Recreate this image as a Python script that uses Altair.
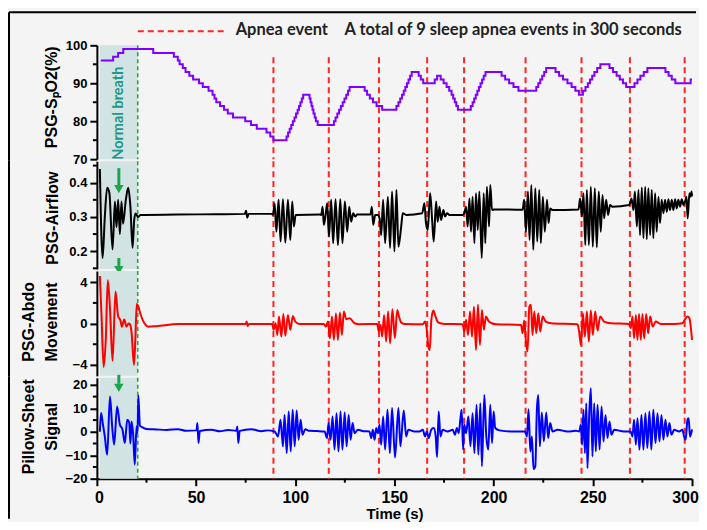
import altair as alt
import pandas as pd

# ---------------- data ----------------
TIME_TICKS = [0, 50, 100, 150, 200, 250, 300]
TIME_MINOR = [25, 75, 125, 175, 225, 275]
NORMAL_BREATH = [1.5, 20.6]          # shaded "Normal breath" interval (s)
APNEA_T = [89.0, 116.9, 142.2, 166.5, 185.1, 216.1, 244.3, 268.7, 296.3]

SPO2_TICKS, SPO2_MINOR = [70, 80, 90, 100], [75, 85, 95]
AIR_TICKS, AIR_MINOR = [0.2, 0.3, 0.4], [0.15, 0.25, 0.35, 0.45]
ABDO_TICKS, ABDO_MINOR = [-4, 0, 4], [-2, 2]
PIL_TICKS, PIL_MINOR = [-20, -10, 0, 10, 20], [-15, -5, 5, 15]

SPO2 = [
    (2.0, 96), (8.2, 97), (10.7, 98), (13.3, 99), (28.4, 98), (38.8, 97), (40.8, 96), (41.7, 95),
    (43.3, 94), (44.7, 93), (46.6, 92), (48.5, 91), (51.5, 90), (53.4, 89), (56.3, 88), (58.3, 87),
    (59.3, 86), (60.2, 85), (62.1, 84), (64.1, 83), (66.0, 82), (68.6, 81), (74.8, 80), (77.7, 79),
    (80.6, 78), (85.5, 77), (87.4, 76), (89.0, 75), (95.6, 76), (96.4, 77), (97.2, 78), (98.0, 79),
    (98.8, 80), (99.6, 81), (100.4, 82), (101.2, 83), (101.9, 84), (102.6, 85), (103.3, 86), (104.0, 87),
    (107.2, 86), (107.7, 85), (108.2, 84), (108.7, 83), (109.2, 82), (109.8, 81), (110.4, 80), (111.3, 79),
    (119.5, 80), (120.3, 81), (121.2, 82), (122.1, 83), (123.0, 84), (123.9, 85), (124.8, 86), (125.7, 87),
    (126.6, 88), (127.4, 89), (135.0, 88), (136.2, 87), (137.6, 86), (139.2, 85), (141.0, 84), (143.8, 83),
    (151.0, 84), (152.0, 85), (152.9, 86), (153.8, 87), (154.7, 88), (155.5, 89), (156.3, 90), (157.1, 91),
    (157.9, 92), (158.7, 93), (162.2, 92), (163.3, 91), (164.5, 90), (170.3, 91), (171.5, 92), (173.3, 91),
    (174.8, 90), (176.3, 89), (177.6, 88), (178.8, 87), (179.6, 86), (180.4, 85), (181.2, 84), (182.0, 83),
    (188.5, 84), (189.4, 85), (190.2, 86), (191.0, 87), (191.8, 88), (192.6, 89), (193.4, 90), (194.2, 91),
    (195.0, 92), (195.9, 93), (204.0, 92), (205.8, 91), (207.8, 90), (210.0, 89), (212.5, 88), (221.5, 89),
    (222.5, 90), (223.5, 91), (224.5, 92), (225.5, 93), (226.5, 94), (231.2, 93), (233.0, 92), (235.0, 91),
    (237.2, 90), (239.3, 89), (241.2, 88), (243.0, 87), (245.0, 88), (246.3, 89), (247.5, 90), (248.6, 91),
    (249.7, 92), (250.8, 93), (252.2, 94), (253.8, 95), (258.4, 94), (260.2, 93), (262.0, 92), (263.6, 91),
    (265.2, 90), (266.8, 89), (271.0, 90), (272.5, 91), (274.0, 92), (275.7, 93), (277.5, 94), (286.6, 93),
    (288.2, 92), (289.8, 91), (291.6, 90), (299.3, 91), (300.0, 91),
]

AIRFLOW = [
    (1.5, 0.44), (2.9, 0.18), (4.0, 0.30), (5.2, 0.385), (6.3, 0.37), (7.9, 0.205), (9.1, 0.345),
    (9.9, 0.27), (10.7, 0.35), (11.6, 0.25), (12.4, 0.345), (13.2, 0.28), (14.6, 0.35), (15.8, 0.385),
    (16.9, 0.33), (18.0, 0.21), (18.8, 0.29), (19.5, 0.31), (20.8, 0.30), (22.0, 0.306), (40.0, 0.307),
    (60.0, 0.308), (74.6, 0.309), (75.2, 0.318), (75.8, 0.298), (76.5, 0.309), (88.0, 0.309),
    (88.8, 0.306), (89.6, 0.340), (90.5, 0.257), (91.6, 0.350), (92.6, 0.228), (93.8, 0.352), (95.0, 0.225),
    (96.3, 0.350), (97.5, 0.233), (98.5, 0.345), (99.3, 0.272), (100.2, 0.306), (112.5, 0.307),
    (113.1, 0.306), (113.8, 0.330), (114.4, 0.277), (115.3, 0.306), (116.1, 0.340), (117.0, 0.243),
    (118.1, 0.350), (119.1, 0.223), (120.3, 0.352), (121.5, 0.218), (122.7, 0.352), (123.8, 0.223),
    (125.0, 0.345), (126.2, 0.257), (127.2, 0.330), (128.2, 0.286), (129.2, 0.311), (130.2, 0.301),
    (131.2, 0.307), (137.9, 0.307), (138.6, 0.330), (139.3, 0.277), (140.3, 0.306), (141.6, 0.306),
    (142.5, 0.296), (143.3, 0.247), (144.3, 0.350), (145.3, 0.223), (146.7, 0.359), (147.8, 0.209),
    (148.8, 0.374), (150.0, 0.199), (151.0, 0.379), (152.0, 0.213), (153.4, 0.272), (154.2, 0.311),
    (155.9, 0.306), (164.0, 0.311), (165.1, 0.340), (165.9, 0.282), (166.8, 0.262), (168.0, 0.369),
    (169.0, 0.291), (169.8, 0.228), (171.0, 0.345), (171.8, 0.286), (172.7, 0.330), (173.5, 0.291),
    (174.7, 0.320), (175.5, 0.301), (176.5, 0.311), (177.7, 0.306), (184.4, 0.306), (185.2, 0.311),
    (186.1, 0.330), (186.9, 0.272), (187.8, 0.354), (188.6, 0.257), (189.4, 0.359), (190.3, 0.223),
    (191.1, 0.369), (192.0, 0.262), (192.8, 0.374), (194.0, 0.180), (195.0, 0.369), (195.8, 0.223),
    (196.6, 0.388), (197.7, 0.272), (198.3, 0.393), (199.2, 0.320), (200.3, 0.322), (214.6, 0.321),
    (215.4, 0.350), (216.3, 0.257), (217.3, 0.374), (218.1, 0.233), (219.0, 0.393), (220.0, 0.204),
    (221.0, 0.384), (222.0, 0.228), (223.0, 0.379), (223.8, 0.223), (224.8, 0.359), (225.8, 0.257),
    (226.9, 0.350), (227.7, 0.282), (228.5, 0.325), (229.7, 0.320), (242.8, 0.322), (243.6, 0.354),
    (244.5, 0.301), (245.3, 0.369), (246.2, 0.218), (247.0, 0.379), (248.0, 0.218), (249.0, 0.388),
    (250.0, 0.213), (251.0, 0.384), (252.0, 0.211), (253.0, 0.374), (254.0, 0.257), (254.9, 0.364),
    (255.7, 0.296), (256.7, 0.350), (257.7, 0.306), (258.7, 0.335), (259.9, 0.330), (268.3, 0.335),
    (268.8, 0.340), (269.5, 0.354), (270.5, 0.320), (271.2, 0.374), (272.2, 0.272), (273.0, 0.379),
    (273.8, 0.247), (274.7, 0.386), (275.5, 0.238), (276.4, 0.388), (277.2, 0.235), (278.0, 0.384),
    (278.9, 0.247), (279.7, 0.379), (280.5, 0.238), (281.4, 0.369), (282.2, 0.257), (283.1, 0.359),
    (283.9, 0.282), (284.7, 0.350), (285.6, 0.311), (286.4, 0.350), (287.3, 0.315), (288.1, 0.352),
    (288.9, 0.320), (289.8, 0.350), (290.6, 0.320), (291.5, 0.352), (292.3, 0.325), (293.1, 0.350),
    (294.0, 0.330), (294.8, 0.352), (295.7, 0.335), (296.5, 0.345), (297.2, 0.359), (297.8, 0.296),
    (298.7, 0.369), (299.3, 0.359), (299.8, 0.374), (300.0, 0.360),
]

ABDO = [
    (1.5, 4.6), (2.4, 0.5), (3.4, -4.2), (4.5, -1.5), (5.5, 4.2), (6.6, 1.5), (7.9, -3.6), (9.4, 3.1),
    (10.7, 0.7), (11.9, 0.3), (12.6, -0.3), (13.8, 0.4), (14.9, -0.3), (16.0, 0.0), (16.8, -0.1),
    (17.5, -0.9), (18.7, -4.0), (19.4, -1.5), (20.1, 1.9), (20.8, 1.7), (22.0, 0.9), (24.0, 0.0),
    (26.0, -0.3), (30.0, -0.25), (41.0, -0.05), (75.0, -0.03), (75.5, 0.2), (76.0, -0.25), (76.6, -0.03),
    (88.4, -0.03), (89.1, -0.61), (90.1, 0.03), (91.0, -1.10), (91.8, 0.68), (93.0, -1.26), (94.0, 0.93),
    (95.0, -1.19), (96.3, 0.84), (97.5, -0.61), (98.8, 0.74), (100.0, 0.19), (102.2, -0.03), (114.4, -0.03),
    (115.5, -0.29), (116.5, 0.19), (117.5, -1.42), (118.5, 0.68), (119.5, -1.58), (120.5, 1.0),
    (121.5, -1.58), (122.5, 1.07), (123.5, -1.10), (124.5, 1.16), (125.7, 0.42), (127.4, 0.52),
    (129.9, 0.03), (132.4, -0.06), (141.3, -0.03), (142.1, -0.77), (143.0, -0.13), (143.8, -1.26),
    (144.8, 0.84), (145.8, -1.74), (146.8, 1.16), (147.8, -1.90), (149.0, 1.39), (150.2, -1.42),
    (151.4, 1.32), (152.3, 0.68), (153.4, 0.10), (155.0, -0.03), (164.3, -0.06), (165.4, 0.19),
    (166.3, -0.61), (167.1, -2.22), (167.8, -2.55), (168.6, 0.36), (169.6, 1.26), (170.6, 0.74),
    (172.1, 0.10), (175.2, -0.03), (184.4, -0.06), (185.2, -0.77), (186.1, 0.36), (187.1, -1.10),
    (188.1, 1.16), (189.1, -1.26), (190.1, 1.64), (191.1, -2.55), (192.1, 1.81), (193.1, -2.06),
    (194.1, 1.32), (195.1, -0.61), (196.1, 0.68), (197.3, 0.29), (199.0, 0.03), (201.2, -0.06),
    (213.8, -0.13), (214.6, -0.93), (215.4, 0.29), (216.3, -1.74), (217.1, -2.71), (218.0, 1.64),
    (218.8, 1.81), (219.6, -1.10), (220.5, 1.16), (221.5, -0.93), (222.5, 1.0), (223.5, -0.77),
    (224.7, 0.68), (226.3, 0.19), (228.9, 0.03), (242.3, -0.06), (243.1, -0.77), (244.0, -2.06),
    (245.0, 1.0), (246.0, -1.26), (247.0, 1.16), (248.0, -1.74), (249.0, 1.26), (250.0, -1.10),
    (251.2, 1.16), (252.4, -0.68), (253.7, 0.68), (255.7, 0.19), (259.1, 0.03), (268.3, -0.03),
    (269.1, -0.45), (270.0, 0.68), (270.8, -1.42), (271.7, 0.84), (272.5, -1.58), (273.3, 0.93),
    (274.2, -1.58), (275.0, 0.93), (275.9, -1.42), (276.9, 0.93), (277.9, -0.93), (278.9, 0.68),
    (280.2, -0.29), (281.7, 0.19), (284.2, -0.03), (291.0, -0.03), (295.2, 0.03), (296.3, 0.36),
    (297.7, 0.68), (298.7, 0.52), (299.7, -0.93), (300.0, -1.58),
]

PILLOW = [
    (1.5, 0.0), (2.1, 8.0), (3.0, 3.5), (4.0, -2.0), (5.2, -9.8), (6.6, 15.0), (7.7, 2.3), (8.7, -5.5),
    (10.2, 10.8), (11.6, 3.0), (12.9, 1.0), (14.1, -4.8), (15.3, 5.1), (16.3, 4.0), (16.9, -5.0),
    (17.5, 4.4), (18.3, -1.3), (19.1, -14.0), (20.0, 2.3), (20.5, -0.5), (20.9, 15.5), (21.7, 2.5),
    (23.3, 1.8), (25.0, 1.2), (30.0, 1.0), (35.0, 0.8), (40.9, 1.1), (45.0, 0.4), (50.2, 0.6), (50.7, 3.7),
    (51.2, -4.8), (51.9, 0.3), (57.7, 0.9), (62.0, 0.2), (66.1, 0.8), (70.3, 0.4), (70.8, 2.3),
    (71.3, -4.8), (72.0, 0.4), (77.9, 1.1), (82.9, 0.2), (86.0, 0.6), (89.6, 0.15), (91.3, -2.0),
    (92.6, 5.1), (93.8, -6.2), (94.6, 7.2), (95.7, -9.1), (96.7, 8.6), (97.7, -8.4), (98.7, 9.4),
    (99.7, -6.2), (100.7, 9.1), (101.7, -3.4), (102.7, 5.1), (103.7, -1.3), (105.0, 1.1), (107.2, 0.4),
    (111.0, 0.3), (114.8, 0.15), (116.0, -2.7), (116.8, 3.7), (117.8, -3.4), (118.8, 6.5), (119.8, -7.6),
    (120.8, 7.9), (121.8, -8.4), (122.8, 8.6), (123.8, -7.6), (124.9, 8.2), (125.9, -6.2), (126.9, 7.2),
    (127.9, -3.4), (128.9, 3.7), (129.9, -0.6), (131.6, 0.85), (134.5, 0.2), (137.4, 0.15), (138.3, -2.7),
    (139.1, 0.85), (140.0, -3.4), (140.8, 1.6), (141.6, -0.6), (142.5, 3.0), (143.3, -5.5), (144.3, 6.5),
    (145.3, -7.6), (146.5, 9.4), (147.7, -9.1), (148.8, 10.1), (150.3, -11.0), (152.0, 10.1),
    (153.0, -6.2), (154.7, 9.1), (155.9, -2.0), (157.0, 0.85), (160.1, 0.15), (162.6, 0.15),
    (164.3, 0.85), (165.4, -2.0), (166.3, 0.15), (167.3, -2.7), (168.5, 0.85), (169.8, 1.6),
    (170.8, -2.0), (171.5, -10.8), (172.3, 8.6), (173.2, -2.0), (174.3, 0.85), (176.8, 0.15),
    (179.4, 0.85), (180.5, -1.3), (181.5, 1.6), (182.4, -0.6), (183.2, 5.1), (183.9, 9.4), (184.6, -7.6),
    (185.2, 3.0), (186.1, -0.6), (187.3, 6.5), (188.3, -6.2), (189.4, 7.9), (190.3, -9.1), (191.4, 11.5),
    (192.3, -9.8), (193.3, 12.2), (194.1, -14.7), (195.3, 15.7), (196.3, -2.0), (197.3, -7.6),
    (198.3, 11.5), (199.2, -4.8), (200.0, 8.6), (200.8, 1.6), (202.9, 0.6), (208.7, 0.15), (213.8, 0.15),
    (215.8, 0.15), (216.8, -2.0), (217.6, 9.6), (218.5, -8.4), (219.3, -2.0), (220.1, -15.9),
    (221.0, -14.7), (221.8, 9.4), (222.5, 15.7), (223.3, -6.2), (224.3, 8.2), (225.3, -4.1), (226.5, 8.2),
    (227.5, -2.7), (228.5, 3.7), (229.7, 0.15), (232.2, 0.85), (237.3, 0.15), (241.5, 0.4), (243.1, 0.15),
    (244.0, 3.0), (244.6, -5.5), (245.3, 9.4), (246.0, -9.1), (246.7, 12.2), (247.3, -15.5), (248.2, 7.9),
    (249.0, 18.6), (249.8, -10.5), (250.7, 12.2), (251.5, -8.4), (252.4, 11.5), (253.4, -7.6),
    (254.4, 10.8), (255.4, -4.1), (256.4, 7.2), (257.4, -2.7), (258.4, 4.4), (259.4, -1.3), (260.7, 0.85),
    (265.8, 0.15), (269.1, 0.15), (270.0, -2.0), (270.8, 5.1), (271.7, -5.5), (272.5, 5.8), (273.5, -7.6),
    (274.5, 7.2), (275.5, -7.6), (276.5, 7.9), (277.5, -6.9), (278.5, 8.6), (279.5, -7.6), (280.5, 9.4),
    (281.6, -4.8), (282.6, 7.9), (283.6, -4.1), (284.6, 7.2), (285.6, -3.4), (286.6, 5.1), (287.6, -2.0),
    (288.6, 3.7), (289.6, -1.3), (291.0, 0.85), (293.5, 0.15), (295.2, 0.85), (296.0, -2.0),
    (296.8, -3.4), (297.7, 5.1), (298.3, 5.8), (299.0, -2.0), (299.8, 0.15), (300.0, 1.0),
]

# ---------------- styling ----------------
BG = "#f4f4f4"
SHADE = "#d1e3e2"
RED = "#ff2424"
GREEN_LINE = "#22aa44"
GREEN_ARROW = "#1ca64c"
TEAL = "#1f978b"
AX_FONT = "Liberation Sans"
TXT_FONT = "Lato"

W = 596
H1, H2, H3, H4 = 114, 108, 105, 101

xs = alt.Scale(domain=[0, 300], nice=False, zero=False)
one = pd.DataFrame({"d": [0]})
shade_df = pd.DataFrame({"s": [NORMAL_BREATH[0]], "e": [NORMAL_BREATH[1]]})
green_df = pd.DataFrame({"t": [NORMAL_BREATH[1]]})
apnea_df = pd.DataFrame({"t": APNEA_T})


def df(pairs):
    return pd.DataFrame(pairs, columns=["t", "v"])


def rule_px(x, y, x2=None, y2=None, color="black", width=2, dash=None):
    kw = dict(color=color, strokeWidth=width)
    if dash:
        kw["strokeDash"] = dash
    enc = dict(x=alt.value(x), y=alt.value(y))
    if x2 is not None:
        enc["x2"] = alt.value(x2)
    if y2 is not None:
        enc["y2"] = alt.value(y2)
    return alt.Chart(one).mark_rule(**kw).encode(**enc)


def text_px(x, y, txt, size=16, font=AX_FONT, color="black", angle=0, align="center", lh=None):
    kw = dict(font=font, fontSize=size, fontWeight="bold", color=color, align=align,
              baseline="middle", angle=angle)
    if lh:
        kw["lineHeight"] = lh
        kw["lineBreak"] = "\n"
    return alt.Chart(one).mark_text(**kw).encode(
        x=alt.value(x), y=alt.value(y), text=alt.value(txt))


def arrow(x, y0, y1):
    shaft = rule_px(x, y0, y2=y1 - 4, color=GREEN_ARROW, width=3)
    head = alt.Chart(one).mark_point(shape="triangle-down", filled=True, size=90,
                                     color=GREEN_ARROW, opacity=1).encode(
        x=alt.value(x), y=alt.value(y1))
    return [shaft, head]


def panel(h, pairs, color, ydom, yticks, yminor, fmt, interp, extras,
          red_top=0, xaxis=None, frame=(-1, None), x_minor=False):
    ys = alt.Scale(domain=ydom, nice=False, zero=False)
    yaxis = alt.Axis(values=yticks, format=fmt, title=None)

    def X(field):
        return alt.X(field, scale=xs, axis=xaxis)

    shade = alt.Chart(shade_df).mark_rect(color=SHADE).encode(
        x=X("s:Q"), x2="e:Q", y=alt.value(0), y2=alt.value(h))
    green = alt.Chart(green_df).mark_rule(color=GREEN_LINE, strokeDash=[4, 3], strokeWidth=1.6).encode(
        x=X("t:Q"), y=alt.value(0), y2=alt.value(h))
    red = alt.Chart(apnea_df).mark_rule(color=RED, strokeDash=[6, 4], strokeWidth=2).encode(
        x=X("t:Q"), y=alt.value(red_top), y2=alt.value(h))
    line = alt.Chart(df(pairs)).mark_line(color=color, strokeWidth=2, interpolate=interp).encode(
        x=X("t:Q"), y=alt.Y("v:Q", scale=ys, axis=yaxis))
    minor = alt.Chart(pd.DataFrame({"v": yminor})).mark_rule(color="black", strokeWidth=2).encode(
        y=alt.Y("v:Q", scale=ys, axis=yaxis), x=alt.value(-4), x2=alt.value(0))
    f0, f1 = frame
    left_frame = rule_px(-88, f0, y2=(h + 1 if f1 is None else f1))
    layers = [shade, green, red, line, minor, left_frame]
    if x_minor:
        layers.append(alt.Chart(pd.DataFrame({"t": TIME_MINOR})).mark_rule(
            color="black", strokeWidth=2).encode(x=X("t:Q"), y=alt.value(h), y2=alt.value(h + 4)))
    layers += extras
    return alt.layer(*layers).properties(width=W, height=h)


# panel 1 : SpO2
p1_extras = [
    rule_px(-88, -33, x2=600),                                   # frame top
    rule_px(41, -14, x2=131, color=RED, dash=[6, 4]),            # legend sample
    text_px(139, -15, "Apnea event", size=16.5, font=TXT_FONT, color="#222222", align="left"),
    text_px(248, -15, "A total of 9 sleep apnea events in 300 seconds", size=16.5,
            font=TXT_FONT, color="#222222", align="left"),
    text_px(-45, 52, "PSG-S\u209aO2(%)", size=16, angle=270),
    text_px(22.5, 68, "Normal breath", size=14.5, font=TXT_FONT, color=TEAL, angle=270),
]
p1 = panel(H1, SPO2, "#7f00ff", [70, 100], SPO2_TICKS, SPO2_MINOR, "d", "step-after",
           p1_extras, red_top=12, frame=(-33, H1 + 1))

# panel 2 : airflow
p2_extras = [text_px(-44, 57, "PSG-Airflow", size=16, angle=270)] + arrow(22, 7, 28) + arrow(22, 97, 109)
p2 = panel(H2, AIRFLOW, "black", [0.148, 0.463], AIR_TICKS, AIR_MINOR, ".1f", "monotone", p2_extras)

# panel 3 : abdominal movement
p3_extras = [text_px(-68, 51, "PSG-Abdo\nMovement", size=16, angle=270, lh=23)]
p3 = panel(H3, ABDO, "#ff0000", [-5.06, 5.09], ABDO_TICKS, ABDO_MINOR, "d", "monotone", p3_extras)

# panel 4 : pillow-sheet signal
p4_extras = [text_px(-68, 49, "Pillow-Sheet\nSignal", size=16, angle=270, lh=23)] + arrow(22, -3, 10)
x_axis = alt.Axis(values=TIME_TICKS, format="d", title="Time (s)", labelFontSize=16, labelFlush=False,
                  labelOffset={"expr": "datum.value == 300 ? -7 : (datum.value == 0 ? 2 : 0)"},
                  labelPadding=4, titleFontSize=15, titleFont=AX_FONT, titleFontWeight="bold",
                  titleColor="black", titlePadding=1)
p4 = panel(H4, PILLOW, "#0000ff", [-20, 23], PIL_TICKS, PIL_MINOR, "d", "monotone", p4_extras,
           xaxis=x_axis, frame=(-1, 141), x_minor=True)

chart = alt.vconcat(p1, p2, p3, p4, spacing=2, bounds="flush").properties(
    background=BG,
    padding={"left": 0, "top": 3, "right": 0, "bottom": 0},
).configure_view(stroke=None).configure_axis(
    domainColor="black", domainWidth=2, tickColor="black", tickWidth=2, tickSize=7,
    labelFont=AX_FONT, labelFontWeight="bold", labelFontSize=13, labelColor="black",
    labelPadding=3, grid=False, zindex=1,
)

chart.save("out.html", embed_options={"renderer": "svg", "actions": False})
